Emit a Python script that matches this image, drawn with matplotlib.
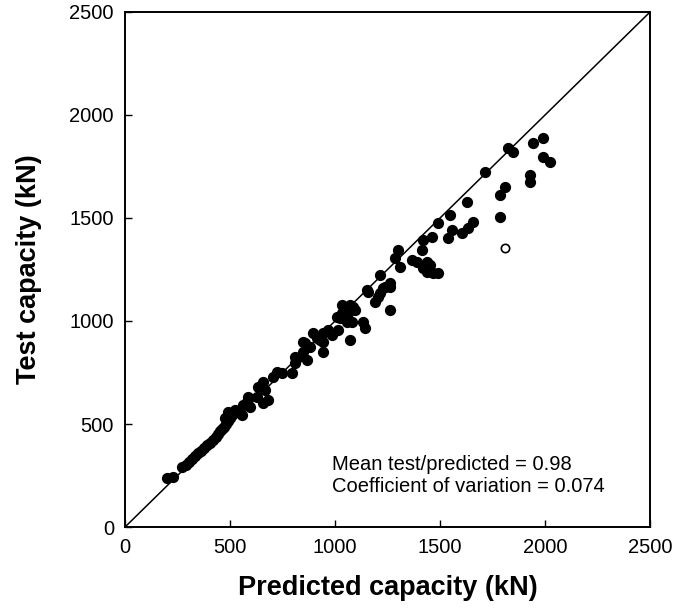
import matplotlib
matplotlib.use("Agg")
import matplotlib.pyplot as plt

plt.rcParams['font.family'] = ['Liberation Sans', 'DejaVu Sans']

# predicted vs test capacity (kN)
predicted = [200, 229, 271, 290, 305, 319, 333, 348, 362, 376, 390, 405, 419, 433,
             443, 452, 462, 471, 481, 490, 500, 510, 476, 490, 510, 524, 557, 562,
             581, 595, 586, 629, 657, 681, 667, 633, 657, 705, 724, 748, 795, 810,
             810, 819, 848, 867, 848, 881, 895, 929, 943, 943, 943, 967, 1014, 1024,
             1057, 1062, 1033, 1071, 1071, 1086, 1033, 857, 914, 986, 1010, 1095,
             1081, 1152, 1238, 1157, 1190, 1205, 1214, 1229, 1262, 1214, 1262, 1143,
             1133, 1300, 1286, 1310, 1262, 1367, 1390, 1438, 1452, 1419, 1438, 1467,
             1490, 1414, 1419, 1462, 1490, 1538, 1557, 1548, 1605, 1633, 1657, 1629,
             1714, 1786, 1810, 1786, 1824, 1848, 1929, 1929, 1943, 1990, 1990, 2024]
test = [238, 243, 291, 301, 316, 330, 345, 359, 369, 383, 398, 408, 422, 437,
        451, 466, 476, 485, 500, 515, 529, 548, 529, 558, 544, 568, 544, 592,
        607, 582, 631, 631, 602, 616, 665, 680, 704, 728, 752, 748, 748, 796,
        825, 820, 849, 811, 898, 874, 942, 908, 898, 849, 942, 956, 956, 1015,
        995, 1039, 1078, 1078, 908, 1068, 1039, 893, 917, 932, 1019, 1053,
        995, 1150, 1165, 1141, 1092, 1116, 1136, 1160, 1165, 1223, 1053, 966,
        995, 1345, 1306, 1262, 1184, 1296, 1286, 1286, 1272, 1257, 1238, 1233,
        1233, 1345, 1393, 1408, 1476, 1403, 1442, 1514, 1427, 1451, 1481, 1578,
        1723, 1612, 1650, 1505, 1840, 1820, 1675, 1709, 1864, 1888, 1796, 1772]

# excluded specimen (open circle)
outlier_pred = [1810]
outlier_test = [1354]

ticks = [0, 500, 1000, 1500, 2000, 2500]

fig = plt.figure(figsize=(6.9, 6.08), dpi=100)
ax = fig.add_axes([0.1812, 0.1332, 0.7609, 0.8471])

ax.plot([0, 2500], [0, 2500], color='black', lw=1.1, zorder=1)
ax.scatter(predicted, test, s=50, color='black', edgecolors='black', zorder=3)
ax.scatter(outlier_pred, outlier_test, s=36, facecolors='white', edgecolors='black',
           linewidths=1.2, zorder=3)

ax.set_xlim(0, 2500)
ax.set_ylim(0, 2500)
ax.set_xticks(ticks)
ax.set_yticks(ticks)
ax.tick_params(direction='in', length=5, width=1, labelsize=14.5, pad=8,
               top=False, right=False)
for sp in ax.spines.values():
    sp.set_linewidth(1.4)

ax.set_xlabel('Predicted capacity (kN)', fontsize=19.5, fontweight='bold', labelpad=13)
ax.set_ylabel('Test capacity (kN)', fontsize=19.5, fontweight='bold', labelpad=20)

ax.text(0.395, 0.1, 'Mean test/predicted = 0.98\nCoefficient of variation = 0.074',
        transform=ax.transAxes, fontsize=14.5, va='center', ha='left', linespacing=1.2)

fig.savefig('out.png', dpi=100)
